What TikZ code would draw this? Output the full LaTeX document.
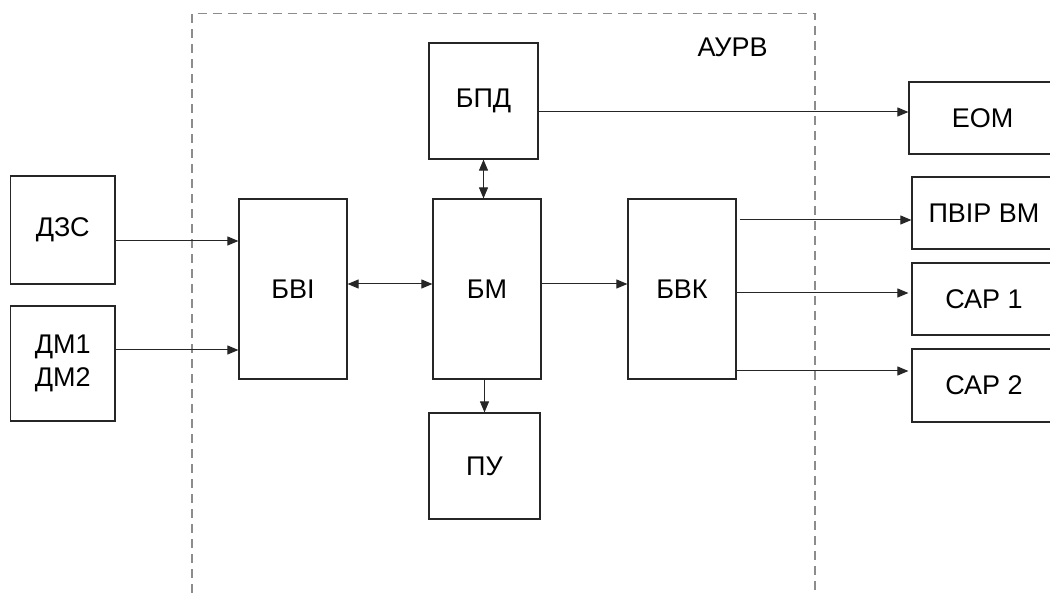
\documentclass[tikz,border=0pt]{standalone}
\usepackage{fontspec}
\setmainfont{Liberation Sans}
\usetikzlibrary{arrows.meta,calc}
\begin{document}
\begin{tikzpicture}[x=1pt,y=-1pt,
  blk/.style={draw=black!85,line width=1.2pt,inner sep=0pt,align=center,font=\fontsize{27}{33}\selectfont},
  arr/.style={draw=black!85,line width=1pt,-{Triangle[length=11pt,width=9pt]}},
  darr/.style={draw=black!85,line width=1pt,{Triangle[length=11pt,width=9pt]}-{Triangle[length=11pt,width=9pt]}},
  frame/.style={draw=black!45,line width=1.2pt,dash pattern=on 9pt off 6pt}]
\useasboundingbox (0,0) rectangle (1050,593);
\clip (0,0) rectangle (1050,593);
% frame
\draw[frame] (192,593) -- (192,13.5) -- (815,13.5) -- (815,593);
\node[anchor=base,inner sep=0pt,font=\fontsize{27}{33}\selectfont] (aurv) at (732.5,57) {АУРВ};
% blocks
\node[blk,minimum width=109pt,minimum height=116pt] (bpd) at (483.5,101) {БПД};
\node[blk,minimum width=147pt,minimum height=72pt] (eom) at (982.5,118) {ЕОМ};
\node[blk,minimum width=104.5pt,minimum height=108pt] (dzs) at (62.75,230) {ДЗС};
\node[blk,minimum width=104.5pt,minimum height=115pt] (dm) at (62.75,363.5) {ДМ1\\ДМ2};
\node[blk,minimum width=108pt,minimum height=180pt] (bvi) at (293,289) {БВІ};
\node[blk,minimum width=108pt,minimum height=180pt] (bm) at (487,289) {БМ};
\node[blk,minimum width=108pt,minimum height=180pt] (bvk) at (682,289) {БВК};
\node[blk,minimum width=144pt,minimum height=72pt] (pvir) at (984,213) {ПВІР ВМ};
\node[blk,minimum width=144pt,minimum height=72pt] (sar1) at (984,299) {САР 1};
\node[blk,minimum width=144pt,minimum height=73pt] (sar2) at (984,385.5) {САР 2};
\node[blk,minimum width=111pt,minimum height=106pt] (pu) at (484.5,466) {ПУ};
% connectors
\coordinate (c1) at ([yshift=-11pt]dzs.east);
\draw[arr] (c1) -- (c1 -| bvi.west);
\coordinate (c2) at ([yshift=13.5pt]dm.east);
\draw[arr] (c2) -- (c2 -| bvi.west);
\coordinate (c3) at ([yshift=5pt]bvi.east);
\draw[darr] (c3) -- (c3 -| bm.west);
\coordinate (c4) at ([yshift=5pt]bm.east);
\draw[arr] (c4) -- (c4 -| bvk.west);
\draw[darr] (bpd.south) -- (bpd.south |- bm.north);
\draw[arr] (pu.north |- bm.south) -- (pu.north);
\coordinate (c5) at ([yshift=-11pt]bpd.east);
\draw[arr] (c5) -- (c5 -| eom.west);
\coordinate (c6) at ([yshift=-7pt]pvir.west);
\draw[arr] ([xshift=3pt]bvk.east |- c6) -- (c6);
\coordinate (c7) at ([yshift=6pt]sar1.west);
\draw[arr] (bvk.east |- c7) -- ([xshift=-3pt]c7);
\coordinate (c8) at ([yshift=14.5pt]sar2.west);
\draw[arr] (bvk.east |- c8) -- ([xshift=-3pt]c8);
\end{tikzpicture}
\end{document}
